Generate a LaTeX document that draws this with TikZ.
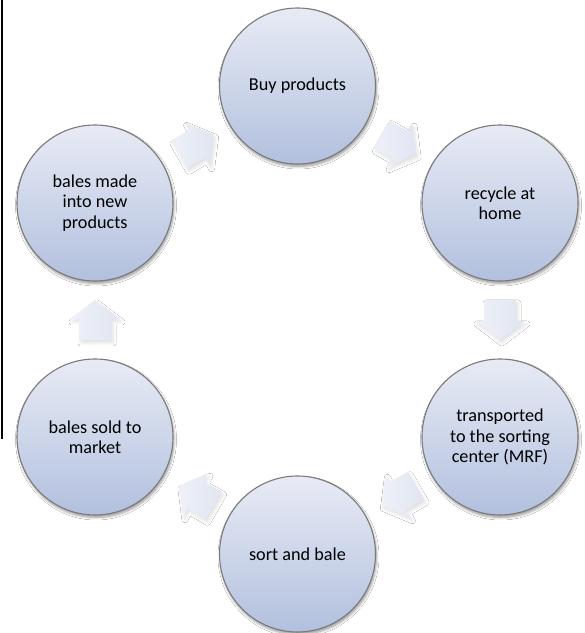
\documentclass[tikz,border=0pt]{standalone}
\usepackage{fontspec}
\setmainfont{Carlito}
\usetikzlibrary{shadows.blur,calc}
\definecolor{ctop}{HTML}{E8EBF5}
\definecolor{cbot}{HTML}{B2C0DE}
\definecolor{cborder}{HTML}{7A7A7A}
\definecolor{atail}{HTML}{EEF1F8}
\definecolor{ahead}{HTML}{E0E5F1}
\begin{document}
\begin{tikzpicture}[x=1pt,y=1pt,
  stage/.style={circle, minimum size=156pt, inner sep=0pt, draw=cborder, line width=1.1pt,
    top color=ctop, bottom color=cbot, align=center,
    font=\fontsize{18.2}{20.5}\selectfont,
    blur shadow={shadow xshift=1pt, shadow yshift=-2.5pt, shadow opacity=40, shadow blur steps=6, shadow blur radius=2.5pt}},
  flow/.style={left color=atail, right color=ahead, draw=none,
    blur shadow={shadow xshift=2pt, shadow yshift=-3pt, shadow opacity=12, shadow blur steps=6, shadow blur radius=3pt}}]
\useasboundingbox (0,0) rectangle (585,633);
\fill[white] (0,0) rectangle (585,633);
\coordinate (lt) at (1.5,633);
\coordinate (lb) at (1.5,194);
\draw[line width=2pt, black] (lt) -- (lb);

\node[stage] (buy) at (297.5,547) {Buy products};
\node[stage] (rec) at (500,430) {recycle at\\home};
\node[stage] (tra) at (500,196) {transported\\to the sorting\\center (MRF)};
\node[stage] (srt) at (297.5,79) {sort and bale};
\node[stage] (sld) at (95,196) {bales sold to\\market};
\node[stage] (mad) at (95,430) {bales made\\into new\\products};

\foreach \a/\b/\r in {buy/rec/-30, rec/tra/-90, tra/srt/-150, srt/sld/150, sld/mad/90, mad/buy/30}{
  \begin{scope}[shift={($(\a)!0.5!(\b)$)}, rotate=\r]
    \path[flow] (-20,-16) -- (1,-16) -- (1,-25) -- (20,0) -- (1,25) -- (1,16) -- (-20,16) -- cycle;
  \end{scope}
}
\end{tikzpicture}
\end{document}
